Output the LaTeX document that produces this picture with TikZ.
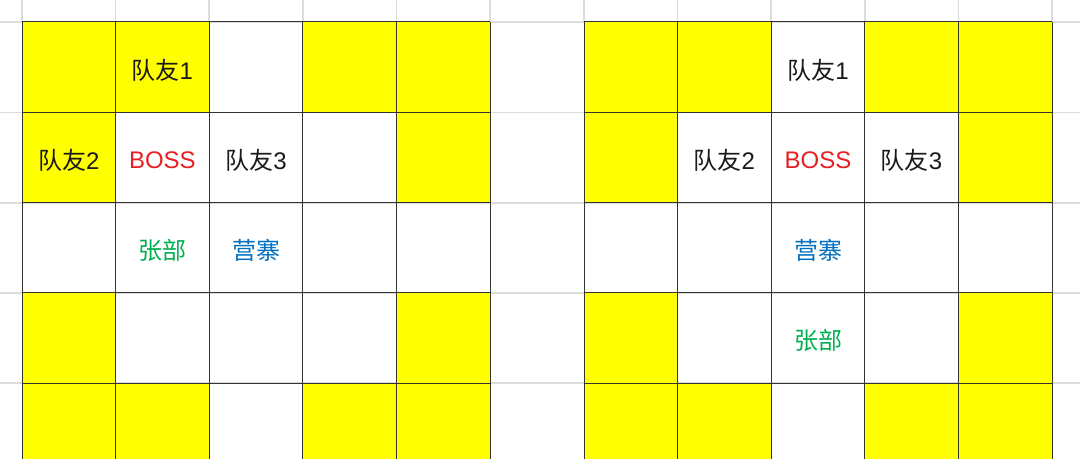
\documentclass[tikz,border=0pt]{standalone}
\usepackage{fontspec}
\setmainfont{Liberation Sans}
\newfontfamily\cjk{Noto Sans CJK SC}

\tikzset{every picture/.style={line width=0.75pt}}
\tikzset{
	sheet line/.style={color={rgb, 255:red, 220; green, 220; blue, 220 }, line width=1.1pt},
	cell line/.style={color={rgb, 255:red, 51; green, 51; blue, 51 }, line width=0.75pt},
	yellow cell/.style={draw opacity=0, fill={rgb, 255:red, 255; green, 255; blue, 0 }, fill opacity=1},
	cell text/.style={anchor=center, inner sep=0.75pt, font=\fontsize{18}{21}\selectfont}}

\begin{document}
\begin{tikzpicture}[x=0.75pt,y=0.75pt,yscale=-1,xscale=1]
	\useasboundingbox (0,0) rectangle (1080,459);
	\fill [white] (0,0) rectangle (1080,459);
	
	%Sheet Lines
	\draw [sheet line] (0,22) -- (1080,22) (0,112.5) -- (1080,112.5) (0,203) -- (1080,203) (0,293) -- (1080,293) (0,383) -- (1080,383) ;
	\draw [sheet line] (22,0) -- (22,22) (115.6,0) -- (115.6,22) (209.2,0) -- (209.2,22) (302.8,0) -- (302.8,22) (396.4,0) -- (396.4,22) (490,0) -- (490,22) ;
	\draw [sheet line] (584,0) -- (584,22) (677.6,0) -- (677.6,22) (771.2,0) -- (771.2,22) (864.8,0) -- (864.8,22) (958.4,0) -- (958.4,22) (1052,0) -- (1052,22) ;
	
	%Shape: Rectangle (left board)
	\draw [yellow cell] (22,22) rectangle (209.2,112.5) ;
	\draw [yellow cell] (302.8,22) rectangle (490,112.5) ;
	\draw [yellow cell] (22,112.5) rectangle (115.6,203) ;
	\draw [yellow cell] (396.4,112.5) rectangle (490,203) ;
	\draw [yellow cell] (22,293) rectangle (115.6,383) ;
	\draw [yellow cell] (396.4,293) rectangle (490,383) ;
	\draw [yellow cell] (22,383) rectangle (209.2,459) ;
	\draw [yellow cell] (302.8,383) rectangle (490,459) ;
	%Shape: Rectangle (right board)
	\draw [yellow cell] (584,22) rectangle (771.2,112.5) ;
	\draw [yellow cell] (864.8,22) rectangle (1052,112.5) ;
	\draw [yellow cell] (584,112.5) rectangle (677.6,203) ;
	\draw [yellow cell] (958.4,112.5) rectangle (1052,203) ;
	\draw [yellow cell] (584,293) rectangle (677.6,383) ;
	\draw [yellow cell] (958.4,293) rectangle (1052,383) ;
	\draw [yellow cell] (584,383) rectangle (771.2,459) ;
	\draw [yellow cell] (864.8,383) rectangle (1052,459) ;
	
	%Shape: Grid (left board)
	\draw [cell line] (22,22) -- (22,459) (115.6,22) -- (115.6,459) (209.2,22) -- (209.2,459) (302.8,22) -- (302.8,459) (396.4,22) -- (396.4,459) (490,22) -- (490,459) ;
	\draw [cell line] (22,22) -- (490,22) (22,112.5) -- (490,112.5) (22,203) -- (490,203) (22,293) -- (490,293) (22,383) -- (490,383) ;
	%Shape: Grid (right board)
	\draw [cell line] (584,22) -- (584,459) (677.6,22) -- (677.6,459) (771.2,22) -- (771.2,459) (864.8,22) -- (864.8,459) (958.4,22) -- (958.4,459) (1052,22) -- (1052,459) ;
	\draw [cell line] (584,22) -- (1052,22) (584,112.5) -- (1052,112.5) (584,203) -- (1052,203) (584,293) -- (1052,293) (584,383) -- (1052,383) ;
	
	% Text Node
	\draw (162.4,70) node [cell text, color={rgb, 255:red, 26; green, 26; blue, 26 }] (mateA1) {{\cjk 队友}1};
	% Text Node
	\draw (68.8,160) node [cell text, color={rgb, 255:red, 26; green, 26; blue, 26 }] (mateA2) {{\cjk 队友}2};
	% Text Node
	\draw (162.4,160) node [cell text, color={rgb, 255:red, 232; green, 30; blue, 37 }] (bossA) {BOSS};
	% Text Node
	\draw (256,160) node [cell text, color={rgb, 255:red, 26; green, 26; blue, 26 }] (mateA3) {{\cjk 队友}3};
	% Text Node
	\draw (162.4,250) node [cell text, color={rgb, 255:red, 0; green, 176; blue, 80 }] (zhangA) {\cjk 张部};
	% Text Node
	\draw (256,250) node [cell text, color={rgb, 255:red, 0; green, 112; blue, 192 }] (campA) {\cjk 营寨};
	
	% Text Node
	\draw (818,70) node [cell text, color={rgb, 255:red, 26; green, 26; blue, 26 }] (mateB1) {{\cjk 队友}1};
	% Text Node
	\draw (724.4,160) node [cell text, color={rgb, 255:red, 26; green, 26; blue, 26 }] (mateB2) {{\cjk 队友}2};
	% Text Node
	\draw (818,160) node [cell text, color={rgb, 255:red, 232; green, 30; blue, 37 }] (bossB) {BOSS};
	% Text Node
	\draw (911.6,160) node [cell text, color={rgb, 255:red, 26; green, 26; blue, 26 }] (mateB3) {{\cjk 队友}3};
	% Text Node
	\draw (818,250) node [cell text, color={rgb, 255:red, 0; green, 112; blue, 192 }] (campB) {\cjk 营寨};
	% Text Node
	\draw (818,340) node [cell text, color={rgb, 255:red, 0; green, 176; blue, 80 }] (zhangB) {\cjk 张部};
	
\end{tikzpicture}
\end{document}
